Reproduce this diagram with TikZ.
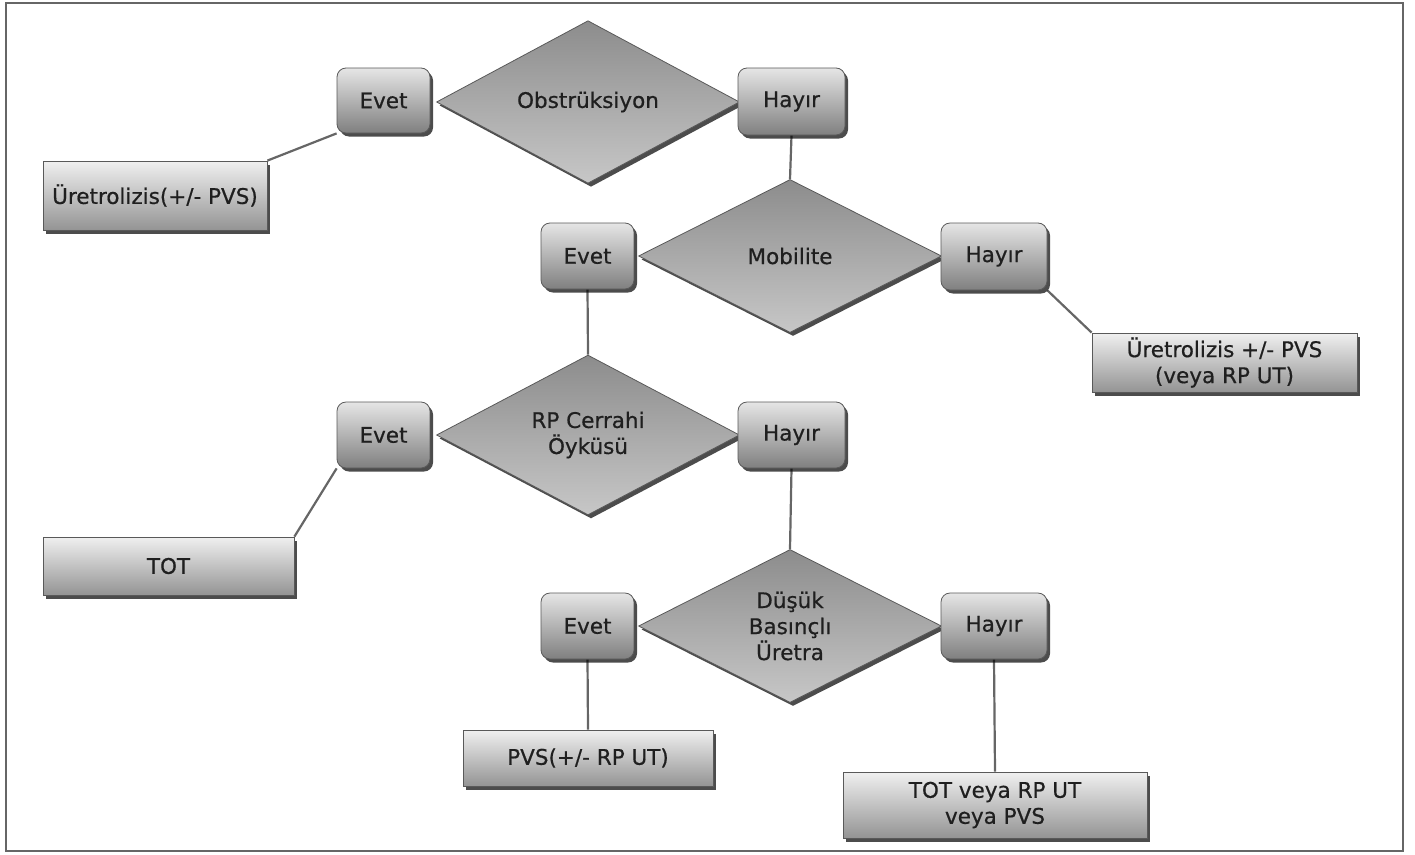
\documentclass[tikz,border=0pt]{standalone}
\usepackage{fontspec}
\setmainfont{DejaVu Sans}
\newfontfamily\lblfam{DejaVu Sans}[FakeBold=0.6]
\usetikzlibrary{shapes.geometric,shadows,backgrounds}
\newcommand{\lblfont}{\lblfam\fontsize{21.5}{26}\selectfont}
\tikzset{
  shadowed/.style={drop shadow={shadow xshift=3pt, shadow yshift=-3.5pt, opacity=.7, fill=black}},
  choice/.style={rectangle, rounded corners=9pt, draw=black!65, line width=.8pt,
    top color=black!10, bottom color=black!50, inner sep=0pt, shadowed,
    font=\lblfont, text=black!88},
  result/.style={rectangle, draw=black!65, line width=.8pt,
    top color=black!6, bottom color=black!42, inner sep=0pt, shadowed,
    align=center, font=\lblfont, text=black!88},
  decision/.style={diamond, draw=black!65, line width=.8pt,
    top color=black!45, bottom color=black!22, inner sep=0pt, shadowed,
    minimum width=303pt, minimum height=153pt, align=center,
    font=\lblfont, text=black!88},
  link/.style={draw=black!60, line width=2.2pt},
}
\begin{document}
\begin{tikzpicture}[x=1pt,y=-1pt]
\useasboundingbox (0,0) rectangle (1415,854);
\draw[black!60, line width=1.5pt] (6,3) rectangle (1403,851);

% decisions
\node[decision] (d1) at (588,102) {Obstrüksiyon};
\node[decision] (d2) at (790,256) {Mobilite};
\node[decision] (d3) at (588,435) {RP Cerrahi\\Öyküsü};
\node[decision] (d4) at (790,626) {Düşük\\Basınçlı\\Üretra};

% yes / no boxes
\node[choice, minimum width=93pt, minimum height=65pt] (e1) at (383.5,100.5) {Evet};
\node[choice, minimum width=107pt, minimum height=67pt] (h1) at (791.5,101.5) {Hayır};
\node[choice, minimum width=93pt, minimum height=66pt] (e2) at (587.5,256) {Evet};
\node[choice, minimum width=106pt, minimum height=67pt] (h2) at (994,256.5) {Hayır};
\node[choice, minimum width=93pt, minimum height=66pt] (e3) at (383.5,435) {Evet};
\node[choice, minimum width=107pt, minimum height=66pt] (h3) at (791.5,435) {Hayır};
\node[choice, minimum width=93pt, minimum height=66pt] (e4) at (587.5,626) {Evet};
\node[choice, minimum width=106pt, minimum height=66pt] (h4) at (994,626) {Hayır};

% results
\node[result, minimum width=224pt, minimum height=69pt] (u1) at (155,195.5) {Üretrolizis(+/- PVS)};
\node[result, minimum width=265pt, minimum height=59pt] (u2) at (1224.5,362.5) {Üretrolizis +/- PVS\\(veya RP UT)};
\node[result, minimum width=251pt, minimum height=58pt] (tot) at (168.5,566) {TOT};
\node[result, minimum width=250pt, minimum height=56pt] (pvs) at (588,758) {PVS(+/- RP UT)};
\node[result, minimum width=304pt, minimum height=66pt] (tv) at (995,805) {TOT veya RP UT\\veya PVS};

\begin{scope}[on background layer]
\draw[link] (e1.south west) -- (u1.north east);
\draw[link] (h1.south) -- (d2.north);
\draw[link] (h2.south east) -- (u2.north west);
\draw[link] (e2.south) -- (d3.north);
\draw[link] (e3.south west) -- (tot.north east);
\draw[link] (h3.south) -- (d4.north);
\draw[link] (e4.south) -- (pvs.north);
\draw[link] (h4.south) -- (tv.north);
\end{scope}
\end{tikzpicture}
\end{document}
